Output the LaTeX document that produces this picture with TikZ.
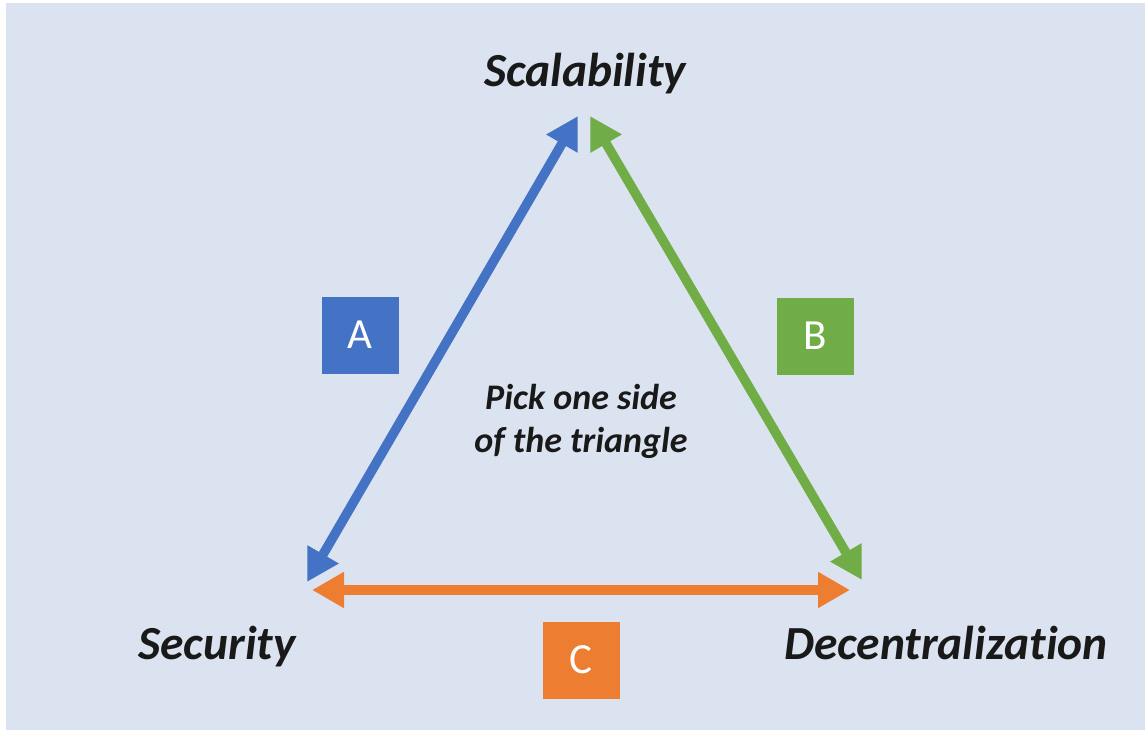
\documentclass[tikz,border=0pt]{standalone}
\usepackage{fontspec}
\setmainfont{Carlito}[Ligatures=NoCommon]
\usetikzlibrary{arrows.meta}
\definecolor{bgblue}{HTML}{DCE3F0}
\definecolor{cblue}{HTML}{4472C4}
\definecolor{cgreen}{HTML}{70AD47}
\definecolor{corange}{HTML}{ED7D31}
\tikzset{
  side/.style={line width=9.5pt, {Triangle[length=32pt,width=34pt]}-{Triangle[length=32pt,width=34pt]}},
  corner/.style={font=\fontsize{47.5}{56}\selectfont\bfseries\itshape, text=black!90, inner sep=0pt, anchor=base},
  letterbox/.style={minimum width=77pt, minimum height=77pt, inner sep=0pt, text=white, font=\fontsize{43}{50}\selectfont},
  note/.style={font=\fontsize{36}{43}\selectfont\bfseries\itshape, text=black!90, align=center, inner sep=0pt}
}
\begin{document}
\begin{tikzpicture}[x=1pt,y=-1pt]
\useasboundingbox (0,0) rectangle (1145,730);
\fill[white] (0,0) rectangle (1145,730);
\fill[bgblue] (6,3) rectangle (1145,730);
% titles
\node[corner] (scal) at (585,87) {Scalability};
\node[corner] (sec) at (217,659) {Security};
\node[corner] (dec) at (946,659) {Decentralization};
% arrow end points
\coordinate (aTop) at (578,116);
\coordinate (aBot) at (307,582);
\coordinate (bTop) at (590,116);
\coordinate (bBot) at (862,580);
\coordinate (cL) at (312,590);
\coordinate (cR) at (850,590);
\draw[side, cblue] (aBot) -- (aTop);
\draw[side, cgreen] (bTop) -- (bBot);
\draw[side, corange] (cL) -- (cR);
% boxes
\node[letterbox, fill=cblue] (A) at (360,335) {A};
\node[letterbox, fill=cgreen] (B) at (815,336) {B};
\node[letterbox, fill=corange] (C) at (581,660) {C};
% centre note
\node[note, anchor=base] (pick) at (581,409) {Pick one side};
\node[note, anchor=base] (tri) at (581,452) {of the triangle};
\end{tikzpicture}
\end{document}
